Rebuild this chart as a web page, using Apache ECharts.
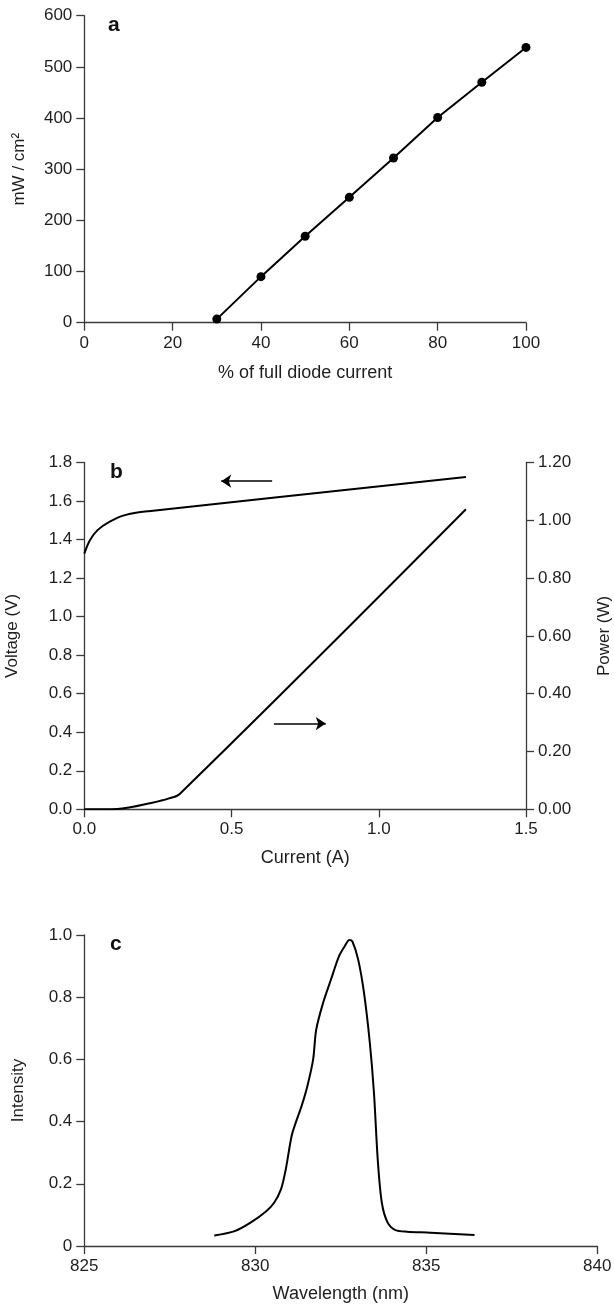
<!DOCTYPE html>
<html>
<head>
<meta charset="utf-8">
<script src="https://cdn.jsdelivr.net/npm/echarts@6/dist/echarts.min.js"></script>
<style>
html,body{margin:0;padding:0;background:#fff;}
#chart{width:614px;height:1306px;}
</style>
</head>
<body>
<div id="chart"></div>
<script>
// Panel a
var aCurrent = [30, 40, 50, 60, 70, 80, 90, 100];
var aPower = [7, 90, 169, 245, 322, 401, 470, 538];
// Panel b
var bVoltI = [0, 0.019, 0.045, 0.085, 0.138, 0.218, 1.296];
var bVoltV = [1.327, 1.397, 1.449, 1.492, 1.527, 1.547, 1.725];
var bPowI = [0, 0.112, 0.152, 0.218, 0.285, 0.325, 1.296];
var bPowP = [0, 0.001, 0.006, 0.020, 0.037, 0.054, 1.038];
var arrowLeft = [[0.638, 1.703], [0.465, 1.703]];
var arrowRight = [[0.644, 0.445], [0.820, 0.445]];
// Panel c
var cWave = [828.80, 829.40, 829.86, 830.32, 830.55, 830.75, 830.89, 831.06, 831.18, 831.35, 831.52, 831.69, 831.78, 831.98, 832.21, 832.44, 832.61, 832.75, 832.84, 833.01, 833.18, 833.35, 833.47, 833.58, 833.70, 833.87, 834.10, 834.44, 835.13, 836.41];
var cInt = [0.034, 0.048, 0.075, 0.112, 0.139, 0.182, 0.246, 0.353, 0.396, 0.449, 0.513, 0.599, 0.695, 0.781, 0.856, 0.930, 0.963, 0.984, 0.979, 0.920, 0.813, 0.652, 0.492, 0.278, 0.139, 0.075, 0.051, 0.046, 0.043, 0.035];

function zip(a, b) { return a.map(function (v, i) { return [v, b[i]]; }); }

var FONT = 'Liberation Sans';
var axisCol = '#3a3a3a';
var txtCol = '#1e1e1e';

function xAx(grid, min, max, interval, name, gap, fmt) {
  return {
    type: 'value', gridIndex: grid, min: min, max: max, interval: interval,
    name: name, nameLocation: 'middle', nameGap: gap,
    nameTextStyle: { fontFamily: FONT, fontSize: 18, color: txtCol },
    axisLine: { show: true, onZero: false, lineStyle: { color: axisCol, width: 1.3 } },
    axisTick: { show: true, length: 8, lineStyle: { color: axisCol, width: 1.3 } },
    axisLabel: { fontFamily: FONT, fontSize: 17, color: txtCol, margin: 12, formatter: fmt },
    splitLine: { show: false }
  };
}
function yAx(grid, min, max, interval, name, gap, fmt, pos) {
  return {
    type: 'value', gridIndex: grid, min: min, max: max, interval: interval, position: pos || 'left',
    name: name, nameLocation: 'middle', nameGap: gap, nameRotate: 90,
    nameTextStyle: { fontFamily: FONT, fontSize: 17, color: txtCol },
    axisLine: { show: true, onZero: false, lineStyle: { color: axisCol, width: 1.3 } },
    axisTick: { show: true, length: 8, lineStyle: { color: axisCol, width: 1.3 } },
    axisLabel: { fontFamily: FONT, fontSize: 17, color: txtCol, margin: 12, formatter: fmt },
    splitLine: { show: false }
  };
}

var chart = echarts.init(document.getElementById('chart'), null, { renderer: 'canvas' });
chart.setOption({
  animation: false,
  backgroundColor: '#fff',
  title: [
    { text: 'a', left: 103, top: 10, textStyle: { fontFamily: FONT, fontSize: 21, fontWeight: 'bold', color: '#111' } },
    { text: 'b', left: 105, top: 457, textStyle: { fontFamily: FONT, fontSize: 21, fontWeight: 'bold', color: '#111' } },
    { text: 'c', left: 105, top: 929, textStyle: { fontFamily: FONT, fontSize: 21, fontWeight: 'bold', color: '#111' } }
  ],
  grid: [
    { left: 84.3, top: 15.7, width: 441.7, height: 307, containLabel: false, outerBoundsMode: 'none' },
    { left: 84.3, top: 462.5, width: 441.7, height: 346.8, containLabel: false, outerBoundsMode: 'none' },
    { left: 84.3, top: 935, width: 513, height: 311, containLabel: false, outerBoundsMode: 'none' }
  ],
  xAxis: [
    xAx(0, 0, 100, 20, '% of full diode current', 41, function (v) { return String(v); }),
    xAx(1, 0, 1.5, 0.5, 'Current (A)', 40, function (v) { return v.toFixed(1); }),
    xAx(2, 825, 840, 5, 'Wavelength (nm)', 39, function (v) { return String(v); })
  ],
  yAxis: [
    yAx(0, 0, 600, 100, 'mW / cm\u00B2', 56, function (v) { return String(v); }),
    yAx(1, 0, 1.8, 0.2, 'Voltage (V)', 63, function (v) { return v.toFixed(1); }),
    yAx(1, 0, 1.2, 0.2, 'Power (W)', 70, function (v) { return v.toFixed(2); }, 'right'),
    yAx(2, 0, 1.0, 0.2, 'Intensity', 57, function (v) { return v === 0 ? '0' : v.toFixed(1); })
  ],
  series: [
    {
      type: 'line', xAxisIndex: 0, yAxisIndex: 0, data: zip(aCurrent, aPower),
      symbol: 'circle', symbolSize: 9, showSymbol: true,
      lineStyle: { color: '#000', width: 2 }, itemStyle: { color: '#000' }
    },
    {
      type: 'line', xAxisIndex: 1, yAxisIndex: 1, data: zip(bVoltI, bVoltV),
      smooth: 0.35, showSymbol: false,
      lineStyle: { color: '#000', width: 2 },
      markLine: {
        silent: true, symbol: ['none', 'arrow'], symbolSize: 10,
        label: { show: false },
        lineStyle: { color: '#000', width: 1.5, type: 'solid' },
        data: [
          [{ coord: arrowLeft[0] }, { coord: arrowLeft[1] }],
          [{ coord: arrowRight[0] }, { coord: arrowRight[1] }]
        ]
      }
    },
    {
      type: 'line', xAxisIndex: 1, yAxisIndex: 2, data: zip(bPowI, bPowP),
      smooth: 0.35, showSymbol: false,
      lineStyle: { color: '#000', width: 2 }
    },
    {
      type: 'line', xAxisIndex: 2, yAxisIndex: 3, data: zip(cWave, cInt),
      smooth: 0.3, showSymbol: false,
      lineStyle: { color: '#000', width: 2 }
    }
  ]
});
</script>
</body>
</html>
